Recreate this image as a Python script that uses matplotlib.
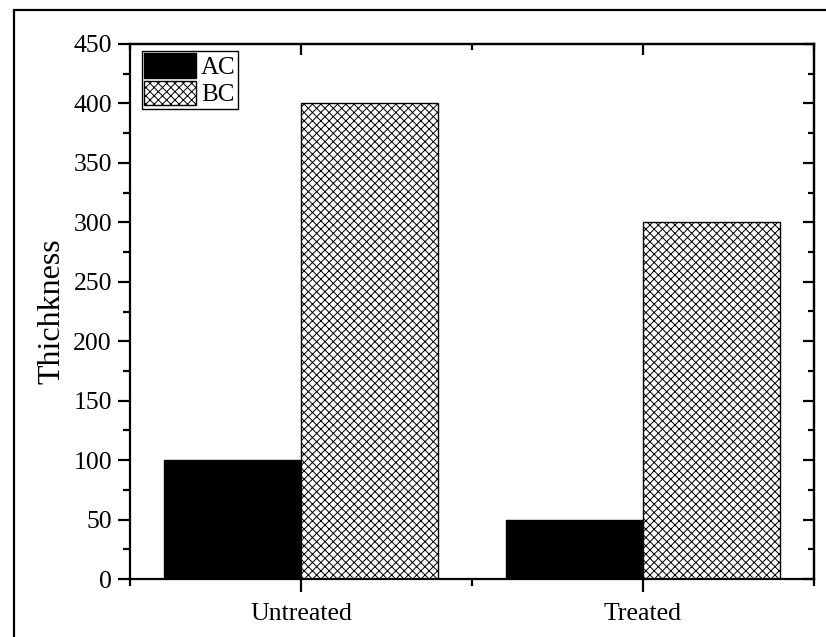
import matplotlib
matplotlib.use("Agg")
import matplotlib.pyplot as plt
from matplotlib.patches import Rectangle

categories = ["Untreated", "Treated"]
ac_values = [100, 50]
bc_values = [400, 300]
series_labels = ["AC", "BC"]

plt.rcParams['font.family'] = ['Liberation Serif', 'DejaVu Serif']
plt.rcParams['hatch.linewidth'] = 0.7

fig = plt.figure(figsize=(8.26, 6.37), dpi=100)
W, H = 826, 637
ax = fig.add_axes([130 / W, 1 - 579 / H, (814 - 130) / W, (579 - 44) / H])

pos = [1, 2]
width = 0.4
ax.bar([p - width / 2 for p in pos], ac_values, width, color='black',
       edgecolor='black', linewidth=1, label=series_labels[0])
ax.bar([p + width / 2 for p in pos], bc_values, width, color='white',
       edgecolor='black', hatch='xxxx', linewidth=1, label=series_labels[1])

ax.set_xlim(0.5, 2.5)
ax.set_ylim(0, 450)
ax.set_xticks(pos)
ax.set_xticklabels(categories)
ax.set_xticks([0.5, 1.5, 2.5], minor=True)
ax.set_yticks(range(0, 451, 50))
ax.set_yticks(range(25, 451, 50), minor=True)

for s in ax.spines.values():
    s.set_linewidth(1.6)
ax.tick_params(which='major', direction='out', length=9, width=1.6,
               labelsize=18.5, pad=4)
ax.tick_params(which='minor', direction='out', length=5, width=1.6)
ax.tick_params(axis='x', which='major', pad=8)

top = ax.secondary_xaxis('top')
top.set_xticks(pos)
top.set_xticks([0.5, 1.5, 2.5], minor=True)
top.tick_params(which='major', direction='in', length=8, width=1.6, labeltop=False)
top.tick_params(which='minor', direction='in', length=4.5, width=1.6)
top.spines['top'].set_linewidth(1.6)

right = ax.secondary_yaxis('right')
right.set_yticks(range(0, 451, 50))
right.set_yticks(range(25, 451, 50), minor=True)
right.tick_params(which='major', direction='in', length=8, width=1.6, labelright=False)
right.tick_params(which='minor', direction='in', length=4.5, width=1.6)
right.spines['right'].set_linewidth(1.6)

ax.set_ylabel("Thichkness", fontsize=23, labelpad=5)

leg = ax.legend(loc='upper left', bbox_to_anchor=(0.0175, 0.987), fontsize=18,
                handlelength=2.05, handleheight=1.15, borderpad=0.1,
                labelspacing=0.05, handletextpad=0.2, borderaxespad=0,
                fancybox=False, framealpha=1, edgecolor='black')
leg.get_frame().set_linewidth(1.0)

fig.patches.append(Rectangle((14 / W, -0.1), 2, 1.1 - 10 / H, transform=fig.transFigure,
                             fill=False, edgecolor='black', linewidth=1.6))

fig.savefig("out.png", dpi=100)
